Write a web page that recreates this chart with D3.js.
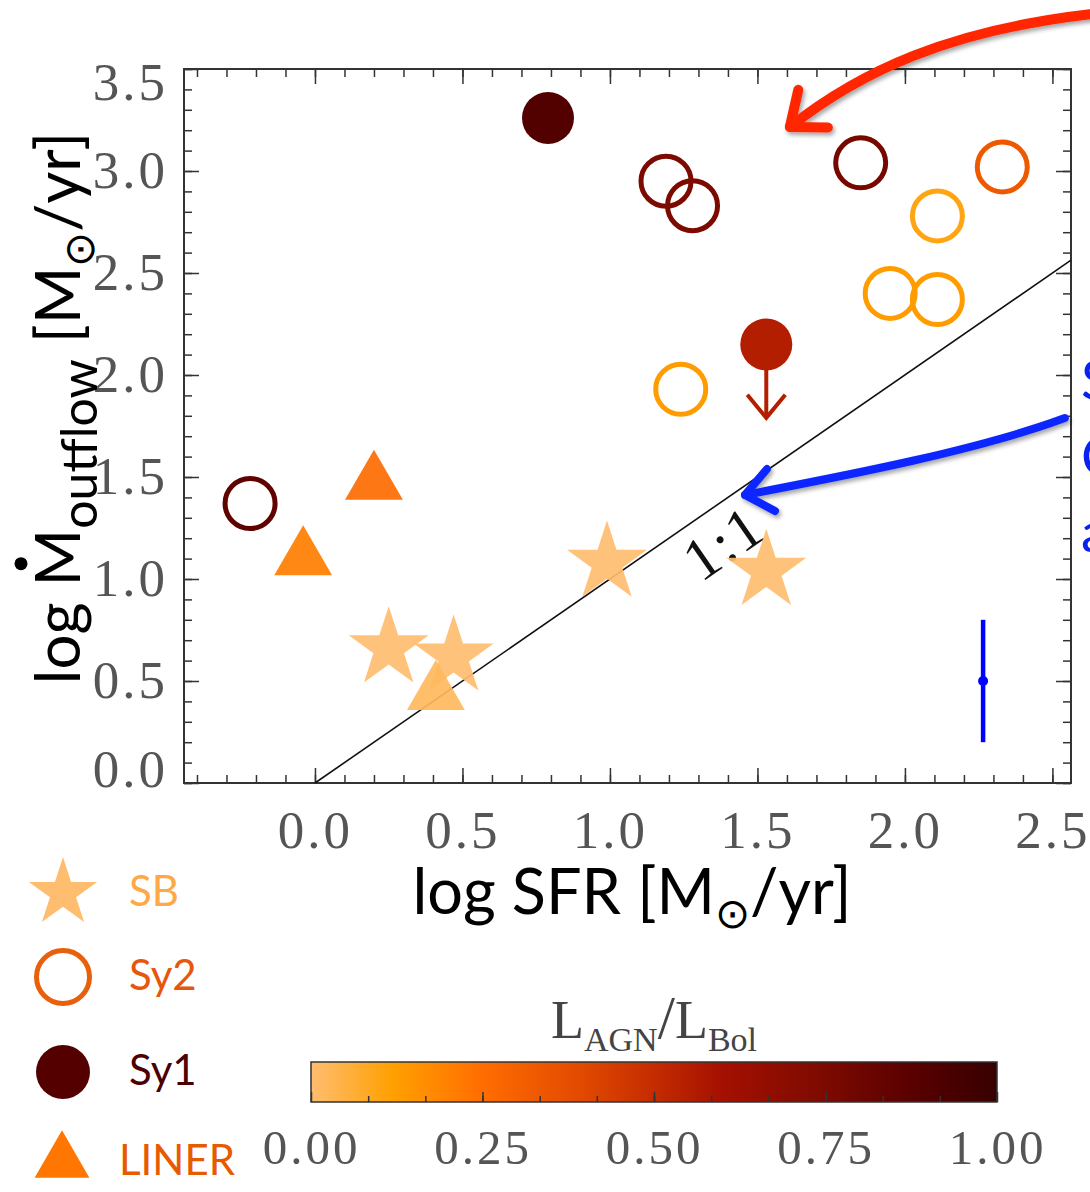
<!DOCTYPE html>
<html>
<head>
<meta charset="utf-8">
<script src="https://cdn.jsdelivr.net/npm/d3@7"></script>
<style>
  body { margin: 0; background: #fff; }
</style>
</head>
<body>
<div id="chart"></div>
<script>
// ---- data (log SFR, log Mdot_outflow, L_AGN/L_Bol) ----
var sbX = [0.25, 0.47, 0.99, 1.53];
var sbY = [0.66, 0.62, 1.08, 1.04];
var sbF = [0.0, 0.0, 0.0, 0.0];

var sy2X = [1.19, 1.28, 1.85, 2.33, 2.11, 1.95, 2.11, 1.24, -0.22];
var sy2Y = [2.95, 2.83, 3.04, 3.02, 2.78, 2.40, 2.37, 1.93, 1.37];
var sy2F = [0.75, 0.75, 0.77, 0.33, 0.10, 0.13, 0.13, 0.13, 0.85];

var sy1X = [0.79, 1.53];
var sy1Y = [3.26, 2.15];
var sy1F = [0.90, 0.55];
var sy1Limit = [false, true];
var limitTo = [null, 1.79];

var linerX = [0.20, -0.04, 0.41];
var linerY = [1.47, 1.10, 0.44];
var linerF = [0.26, 0.21, 0.02];

// typical uncertainty
var errX = [2.265];
var errY = [0.5];
var errD = [0.3];

var xTicks = [0, 0.5, 1.0, 1.5, 2.0, 2.5];
var yTicks = [0, 0.5, 1.0, 1.5, 2.0, 2.5, 3.0, 3.5];
var cbTicks = [0, 0.25, 0.5, 0.75, 1];
var cbStops = [0, 0.12, 0.25, 0.4, 0.5, 0.6, 0.75, 0.88, 1];
var cbColors = ["#ffbd70", "#ffa000", "#ff6d00", "#e04800", "#c42c00", "#a41000", "#7c0a00", "#580000", "#380000"];

var legendNames = ["SB", "Sy2", "Sy1", "LINER"];
var legendText = ["#ffa946", "#e8560c", "#4d0000", "#e85a00"];

// annotation arrows in data units
var redArrow = [[2.634, 3.770], [2.15, 3.69], [1.85, 3.49], [1.610, 3.216]];
var blueArrow = [[2.542, 1.789], [2.25, 1.632], [1.81, 1.51], [1.458, 1.412]];

//Settings
var width = 1090, height = 1192;
var sans = "Lato, 'Open Sans', sans-serif";
var serif = "'Liberation Serif', 'DejaVu Serif', serif";

var svg = d3.select("#chart").append("svg")
    .attr("width", width)
    .attr("height", height)
    .style("background", "#fff");

var defs = svg.append("defs");
var shadow = defs.append("filter").attr("id", "shadow")
    .attr("x", "-20%").attr("y", "-20%").attr("width", "140%").attr("height", "140%");
shadow.append("feDropShadow").attr("dx", 2).attr("dy", 3)
    .attr("stdDeviation", 2).attr("flood-color", "#000").attr("flood-opacity", 0.35);

var x = d3.scaleLinear().domain([-0.444, 2.563]).range([184, 1071]);
var y = d3.scaleLinear().domain([0, 3.5]).range([783, 69]);
var color = d3.scaleLinear().domain(cbStops).range(cbColors);

// ---- axes ----
function styleAxis(g) {
    g.select(".domain").remove();
    g.selectAll(".tick line").attr("stroke", "#333").attr("stroke-width", 1.5);
    g.selectAll("text").attr("font-family", serif).attr("font-size", 53)
        .attr("fill", "#555").attr("letter-spacing", 3);
}

svg.append("g").attr("transform", "translate(0,783)")
    .call(d3.axisBottom(x).tickValues(x.ticks(30)).tickSize(-8).tickFormat(""))
    .call(styleAxis);
svg.append("g").attr("class", "xAxis").attr("transform", "translate(0,783)")
    .call(d3.axisBottom(x).tickValues(xTicks).tickSizeInner(-15).tickSizeOuter(0)
        .tickPadding(27).tickFormat(d3.format(".1f")))
    .call(styleAxis);
svg.append("g").attr("transform", "translate(0,69)")
    .call(d3.axisTop(x).tickValues(x.ticks(30)).tickSize(-8).tickFormat(""))
    .call(styleAxis);
svg.append("g").attr("transform", "translate(0,69)")
    .call(d3.axisTop(x).tickValues(xTicks).tickSize(-15).tickFormat(""))
    .call(styleAxis);

svg.append("g").attr("transform", "translate(184,0)")
    .call(d3.axisLeft(y).tickValues(y.ticks(35)).tickSize(-8).tickFormat(""))
    .call(styleAxis);
var yAxisGroup = svg.append("g").attr("class", "yAxis").attr("transform", "translate(184,0)")
    .call(d3.axisLeft(y).tickValues(yTicks).tickSizeInner(-15).tickSizeOuter(0)
        .tickPadding(16).tickFormat(d3.format(".1f")))
    .call(styleAxis);
yAxisGroup.selectAll(".tick text").attr("y", function(d) {
    return d === 3.5 ? 14 : (d === 0 ? -13 : 0);
});
svg.append("g").attr("transform", "translate(1071,0)")
    .call(d3.axisRight(y).tickValues(y.ticks(35)).tickSize(-8).tickFormat(""))
    .call(styleAxis);
svg.append("g").attr("transform", "translate(1071,0)")
    .call(d3.axisRight(y).tickValues(yTicks).tickSize(-15).tickFormat(""))
    .call(styleAxis);

svg.append("rect")
    .attr("x", 184).attr("y", 69)
    .attr("width", 1071 - 184).attr("height", 783 - 69)
    .attr("fill", "none").attr("stroke", "#333").attr("stroke-width", 2);

// 1:1 line
var xmax = x.domain()[1];
svg.append("line")
    .attr("x1", x(0)).attr("y1", y(0))
    .attr("x2", x(xmax)).attr("y2", y(xmax))
    .attr("stroke", "#111").attr("stroke-width", 1.6);

var ang = Math.atan2(y(0) - y(1), x(1) - x(0)) * 180 / Math.PI;
svg.append("text")
    .attr("transform", "translate(" + x(1.383) + "," + y(1.18) + ") rotate(" + (-ang) + ")")
    .attr("text-anchor", "middle").attr("dy", "0.35em")
    .attr("font-family", serif).attr("font-size", 60).attr("fill", "#111")
    .attr("letter-spacing", 2)
    .text("1:1");

// ---- points ----
var star = d3.symbol().type(d3.symbolStar).size(1990);
var tri = d3.symbol().type(d3.symbolTriangle).size(1450);

svg.append("g").selectAll("path")
    .data(sbX.map(function(d, i) { return {x: d, y: sbY[i], f: sbF[i]}; }))
    .enter().append("path")
    .attr("d", star)
    .attr("transform", function(d) { return "translate(" + x(d.x) + "," + y(d.y) + ")"; })
    .attr("fill", function(d) { return color(d.f); })
    .attr("opacity", 0.92);

svg.append("g").selectAll("path")
    .data(linerX.map(function(d, i) { return {x: d, y: linerY[i], f: linerF[i]}; }))
    .enter().append("path")
    .attr("d", tri)
    .attr("transform", function(d) { return "translate(" + x(d.x) + "," + y(d.y) + ")"; })
    .attr("fill", function(d) { return color(d.f); })
    .attr("opacity", 0.92);

svg.append("g").selectAll("circle")
    .data(sy2X.map(function(d, i) { return {x: d, y: sy2Y[i], f: sy2F[i]}; }))
    .enter().append("circle")
    .attr("cx", function(d) { return x(d.x); })
    .attr("cy", function(d) { return y(d.y); })
    .attr("r", 25)
    .attr("fill", "none")
    .attr("stroke", function(d) { return color(d.f); })
    .attr("stroke-width", 5);

var sy1 = sy1X.map(function(d, i) { return {x: d, y: sy1Y[i], f: sy1F[i], lim: sy1Limit[i], to: limitTo[i]}; });
var limG = svg.append("g").selectAll("g")
    .data(sy1.filter(function(d) { return d.lim; }))
    .enter().append("g")
    .attr("stroke", function(d) { return color(d.f); })
    .attr("stroke-width", 4)
    .attr("fill", "none");
limG.append("line")
    .attr("x1", function(d) { return x(d.x); })
    .attr("x2", function(d) { return x(d.x); })
    .attr("y1", function(d) { return y(d.y); })
    .attr("y2", function(d) { return y(d.to); });
limG.append("path")
    .attr("d", function(d) {
        var tx = x(d.x), ty = y(d.to);
        return "M" + (tx - 19) + "," + (ty - 23) + "L" + tx + "," + ty + "L" + (tx + 19) + "," + (ty - 23);
    });

svg.append("g").selectAll("circle")
    .data(sy1)
    .enter().append("circle")
    .attr("cx", function(d) { return x(d.x); })
    .attr("cy", function(d) { return y(d.y); })
    .attr("r", 26)
    .attr("fill", function(d) { return color(d.f); });

// error bar
var errG = svg.append("g").selectAll("g")
    .data(errX.map(function(d, i) { return {x: d, y: errY[i], e: errD[i]}; }))
    .enter().append("g");
errG.append("line")
    .attr("x1", function(d) { return x(d.x); })
    .attr("x2", function(d) { return x(d.x); })
    .attr("y1", function(d) { return y(d.y + d.e); })
    .attr("y2", function(d) { return y(d.y - d.e); })
    .attr("stroke", "#0000ff").attr("stroke-width", 4.5);
errG.append("circle")
    .attr("cx", function(d) { return x(d.x); })
    .attr("cy", function(d) { return y(d.y); })
    .attr("r", 5).attr("fill", "#0000ff");

// ---- annotation arrows ----
function drawArrow(pts, col, w, head) {
    var p = pts.map(function(d) { return [x(d[0]), y(d[1])]; });
    var g = svg.append("g").attr("filter", "url(#shadow)")
        .attr("stroke", col).attr("stroke-width", w)
        .attr("fill", "none").attr("stroke-linecap", "round").attr("stroke-linejoin", "round");
    g.append("path").attr("d", "M" + p[0] + "C" + p[1] + " " + p[2] + " " + p[3]);
    var a = Math.atan2(p[3][1] - p[2][1], p[3][0] - p[2][0]);
    var s = 0.68;
    var w1 = [p[3][0] - head * Math.cos(a - s), p[3][1] - head * Math.sin(a - s)];
    var w2 = [p[3][0] - head * Math.cos(a + s), p[3][1] - head * Math.sin(a + s)];
    g.append("path").attr("d", "M" + w1 + "L" + p[3] + "L" + w2);
}
drawArrow(redArrow, "#ff2600", 10, 38);
drawArrow(blueArrow, "#0a28ff", 8, 34);

// cut-off blue text on the right (runs off the page in the original too)
svg.append("g").selectAll("text")
    .data(["S", "C", "a"])
    .enter().append("text")
    .attr("x", 1081)
    .attr("y", function(d, i) { return 400 + i * 76; })
    .attr("font-family", sans).attr("font-size", 56)
    .attr("fill", "#0a22f0")
    .text(function(d) { return d; });

// ---- axis titles ----
var xt = svg.append("text")
    .attr("x", 632).attr("y", 914)
    .attr("text-anchor", "middle")
    .attr("font-family", sans).attr("font-size", 63).attr("fill", "#000");
xt.append("tspan").text("log SFR [M");
xt.append("tspan").attr("font-size", 42).attr("dy", 14).text("\u2299");
xt.append("tspan").attr("dy", -14).text("/yr]");

var yg = svg.append("g").attr("transform", "translate(80,408) rotate(-90)");
var yt = yg.append("text")
    .attr("text-anchor", "middle")
    .attr("font-family", sans).attr("font-size", 62).attr("fill", "#000");
yt.append("tspan").text("log M");
yt.append("tspan").attr("font-size", 50).attr("dy", 17).text("outflow");
yt.append("tspan").attr("dy", -17).text(" [M");
yt.append("tspan").attr("font-size", 42).attr("dy", 14).text("\u2299");
yt.append("tspan").attr("dy", -14).text("/yr]");
var mS = yt.node().getStartPositionOfChar(4);
var mE = yt.node().getEndPositionOfChar(4);
yg.append("circle")
    .attr("cx", (mS.x + mE.x) / 2 - 6)
    .attr("cy", -59)
    .attr("r", 6.5).attr("fill", "#000");

// ---- legend ----
var legY = [893, 977, 1072, 1162];
var leg = svg.append("g");
leg.append("path").attr("d", d3.symbol().type(d3.symbolStar).size(1450))
    .attr("transform", "translate(63," + legY[0] + ")").attr("fill", color(0));
leg.append("circle").attr("cx", 63).attr("cy", legY[1]).attr("r", 26.5)
    .attr("fill", "none").attr("stroke", "#e8600c").attr("stroke-width", 5);
leg.append("circle").attr("cx", 63).attr("cy", legY[2]).attr("r", 27).attr("fill", "#550000");
leg.append("path").attr("d", d3.symbol().type(d3.symbolTriangle).size(1300))
    .attr("transform", "translate(62," + legY[3] + ")").attr("fill", "#ff7700");
leg.selectAll("text")
    .data(legendNames)
    .enter().append("text")
    .attr("x", function(d, i) { return i === 3 ? 119 : 129; })
    .attr("y", function(d, i) { return legY[i] + 13; })
    .attr("font-family", sans).attr("font-size", 42)
    .attr("fill", function(d, i) { return legendText[i]; })
    .text(function(d) { return d; });

// ---- colour bar ----
var cb = d3.scaleLinear().domain([0, 1]).range([311, 997]);
var grad = defs.append("linearGradient").attr("id", "cbar");
grad.selectAll("stop").data(cbStops).enter().append("stop")
    .attr("offset", function(d) { return (d * 100) + "%"; })
    .attr("stop-color", function(d, i) { return cbColors[i]; });
svg.append("rect")
    .attr("x", cb(0)).attr("y", 1062).attr("width", cb(1) - cb(0)).attr("height", 40)
    .attr("fill", "url(#cbar)").attr("stroke", "#333").attr("stroke-width", 1.5);
svg.append("g").attr("transform", "translate(0,1102)")
    .call(d3.axisBottom(cb).tickValues(d3.range(1, 12).map(function(i) { return i / 12; }))
        .tickSize(-6).tickFormat(""))
    .call(styleAxis);
svg.append("g").attr("transform", "translate(0,1102)")
    .call(d3.axisBottom(cb).tickValues(cbTicks).tickSizeInner(-10).tickSizeOuter(0)
        .tickPadding(27).tickFormat(d3.format(".2f")))
    .call(styleAxis)
    .selectAll("text").attr("font-size", 49);

var ct = svg.append("text")
    .attr("x", 654).attr("y", 1038)
    .attr("text-anchor", "middle")
    .attr("font-family", serif).attr("font-size", 54).attr("fill", "#444");
ct.append("tspan").text("L");
ct.append("tspan").attr("font-size", 34).attr("dy", 13).text("AGN");
ct.append("tspan").attr("font-size", 62).attr("dy", -13).text("/");
ct.append("tspan").text("L");
ct.append("tspan").attr("font-size", 34).attr("dy", 13).text("Bol");
</script>
</body>
</html>
